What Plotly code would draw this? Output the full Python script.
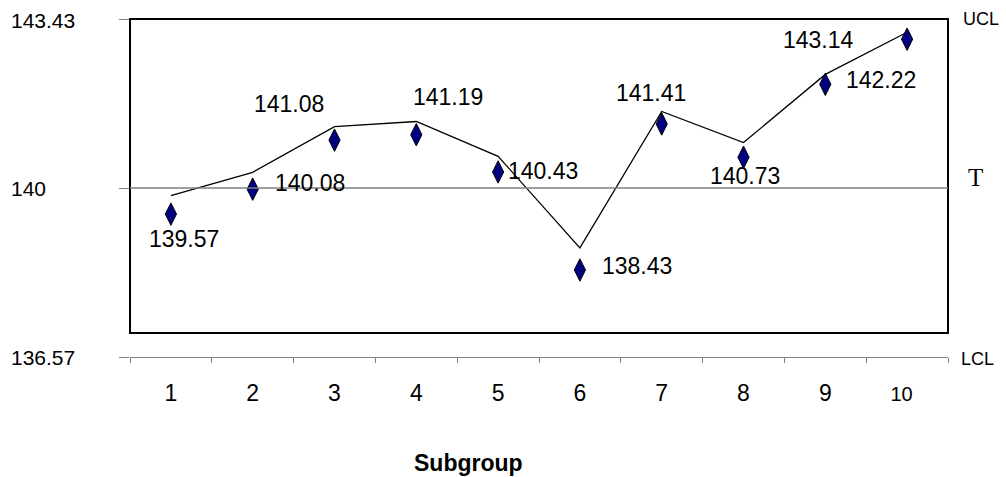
import plotly.graph_objects as go

# ---- data ----
subgroups = ["1", "2", "3", "4", "5", "6", "7", "8", "9", "10"]
means = [139.57, 140.08, 141.08, 141.19, 140.43, 138.43, 141.41, 140.73, 142.22, 143.14]
target = 140.0
ucl = 143.43
lcl = 136.57
limit_values = [lcl, target, ucl]
limit_texts = ["136.57", "140", "143.43"]
x_title = "Subgroup"

# ---- label placement (pixels relative to each marker) ----
label_dx = [12.6, 57.3, -45.7, 31.8, 45, 57, -10.5, 1.4, 56, -88.5]
label_dy = [25, -6, -36, -38, -1, -4, -31, 19, -4, 1]

FONT = "Liberation Sans, Arial, sans-serif"
SERIF = "Liberation Serif, Times New Roman, serif"
GREY = "#808080"

# axis ranges: label axis spans full plot area; line axis matches the inner frame;
# marker axis is offset slightly (as in the source chart)
y_line_range = [136.045, ucl]
y_mark_range = [136.654, 143.552]

fig = go.Figure()

fig.add_trace(go.Scatter(
    x=subgroups, y=means, mode="lines", yaxis="y2",
    line=dict(color="black", width=1.3), showlegend=False, hoverinfo="skip"))

fig.add_trace(go.Scatter(
    x=subgroups, y=means, mode="markers", yaxis="y3",
    marker=dict(symbol="diamond-tall", size=16, color="#000080",
                line=dict(color="black", width=1)),
    cliponaxis=False, showlegend=False))

tick_text = subgroups[:-1] + ['<span style="font-size:20px">10\u00a0\u00a0</span>']

fig.update_layout(
    width=1006, height=477, autosize=False,
    margin=dict(l=130, r=58, t=19, b=120, pad=0),
    paper_bgcolor="white", plot_bgcolor="white",
    font=dict(family=FONT, color="black"),
    xaxis=dict(type="category", categoryorder="array", categoryarray=subgroups,
               range=[-0.5, len(subgroups) - 0.5],
               showline=True, linecolor=GREY, linewidth=1.3,
               ticks="outside", tickson="boundaries", ticklen=5, tickcolor=GREY, tickwidth=1.3,
               tickvals=subgroups, ticktext=tick_text,
               tickfont=dict(size=23, family=FONT, color="black"),
               ticklabelstandoff=15,
               showgrid=False, zeroline=False, anchor="y"),
    yaxis=dict(range=[lcl, ucl], showline=False, showgrid=False, zeroline=False,
               ticks="outside", ticklen=10, tickcolor=GREY, tickwidth=1.3,
               tickvals=limit_values, showticklabels=False),
    yaxis2=dict(range=y_line_range, overlaying="y", visible=False),
    yaxis3=dict(range=y_mark_range, overlaying="y", visible=False),
)

# inner frame = line-axis area between LCL and UCL
frame_bottom = (lcl - y_line_range[0]) / (y_line_range[1] - y_line_range[0])
fig.add_shape(type="rect", xref="paper", yref="paper", x0=0, x1=1, y0=frame_bottom, y1=1,
              line=dict(color="black", width=2), fillcolor="rgba(0,0,0,0)", layer="above")

# target line
fig.add_shape(type="line", xref="paper", yref="y", x0=0, x1=1, y0=target, y1=target,
              line=dict(color=GREY, width=1.3))

annotations = []
# left limit labels
for v, t, ys in zip(limit_values, limit_texts, [0, 0, -1]):
    annotations.append(dict(xref="paper", yref="y", x=0, y=v, xanchor="left", yanchor="middle",
                            xshift=-121, yshift=ys, text=t, showarrow=False,
                            font=dict(size=21, family=FONT, color="black")))
# right labels
annotations.append(dict(xref="paper", yref="y", x=1, y=ucl, xanchor="left", yanchor="middle",
                        xshift=13, yshift=0, text="UCL", showarrow=False,
                        font=dict(size=18, family=FONT, color="black")))
annotations.append(dict(xref="paper", yref="y", x=1, y=lcl, xanchor="left", yanchor="middle",
                        xshift=11, yshift=-2, text="LCL", showarrow=False,
                        font=dict(size=18, family=FONT, color="black")))
annotations.append(dict(xref="paper", yref="y", x=1, y=target, xanchor="center", yanchor="middle",
                        xshift=27, yshift=11, text="T", showarrow=False,
                        font=dict(size=25, family=SERIF, color="black")))
# data labels (x given as category index on the category axis)
for i, (v, dx, dy) in enumerate(zip(means, label_dx, label_dy)):
    annotations.append(dict(xref="x", yref="y3", x=i, y=v, xanchor="center", yanchor="middle",
                            xshift=dx, yshift=-dy, text=f"{v:.2f}", showarrow=False,
                            font=dict(size=23, family=FONT, color="black")))
# axis title
annotations.append(dict(xref="paper", yref="paper", x=(468.8 - 130) / 818, y=0,
                        xanchor="center", yanchor="middle", yshift=-106,
                        text=f"<b>{x_title}</b>", showarrow=False,
                        font=dict(size=23, family=FONT, color="black")))

fig.update_layout(annotations=annotations)
fig.write_html("out.html")
